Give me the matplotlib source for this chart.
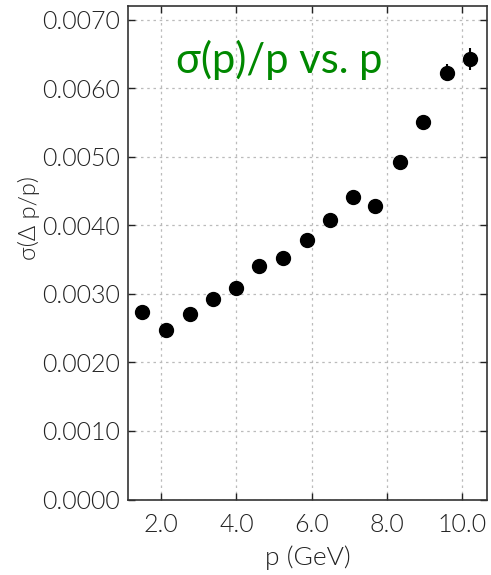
import matplotlib.pyplot as plt

# momentum bins and resolution values
p = [1.50, 2.14, 2.76, 3.39, 4.00, 4.61, 5.23, 5.86, 6.48, 7.10, 7.69, 8.33, 8.95, 9.58, 10.20]
sigma = [0.00273, 0.00247, 0.00271, 0.00292, 0.00309, 0.00341, 0.00352, 0.00379,
         0.00408, 0.00442, 0.00429, 0.00492, 0.00551, 0.00623, 0.00643]
sigma_err = [0.00003, 0.00003, 0.00003, 0.00004, 0.00006, 0.00004, 0.00004, 0.00004,
             0.00004, 0.00005, 0.00004, 0.00006, 0.00009, 0.00012, 0.00016]

xticks = [2.0, 4.0, 6.0, 8.0, 10.0]
yticks = [0.0, 0.001, 0.002, 0.003, 0.004, 0.005, 0.006, 0.007]

plt.rcParams['font.family'] = ['Lato', 'DejaVu Sans']
plt.rcParams['font.weight'] = 300
plt.rcParams['axes.labelweight'] = 300

fig = plt.figure(figsize=(4.91, 5.75), dpi=100)
ax = fig.add_axes([0.2607, 0.1313, 0.731, 0.858])

ax.errorbar(p, sigma, yerr=sigma_err, fmt='o', color='black', markersize=10,
            elinewidth=1.5, capsize=0)

ax.set_xlim(1.12, 10.65)
ax.set_ylim(0.0, 0.0072)
ax.set_xticks(xticks)
ax.set_xticklabels([f"{t:.1f}" for t in xticks])
ax.set_yticks(yticks)
ax.set_yticklabels([f"{t:.4f}" for t in yticks])

ax.tick_params(direction='in', top=True, right=True, length=5, width=1,
               labelsize=18, colors='#222222')
ax.tick_params(axis='x', pad=10)
ax.tick_params(axis='y', pad=6)
ax.grid(True, linestyle=(0, (2, 3)), color='#bbbbbb', linewidth=0.9)
for s in ax.spines.values():
    s.set_linewidth(1.2)
    s.set_color('#333333')

ax.set_xlabel('p (GeV)', fontsize=19, color='#222222', labelpad=6)
ax.set_ylabel('σ(Δ p/p)', fontsize=17, color='#222222')
ax.yaxis.set_label_coords(-0.245, 0.57)

ax.text(0.42, 0.89, 'σ(p)/p vs. p', transform=ax.transAxes, fontsize=30,
        fontweight='normal', color='#008800', ha='center', va='center')

plt.savefig('out.png', dpi=100)
